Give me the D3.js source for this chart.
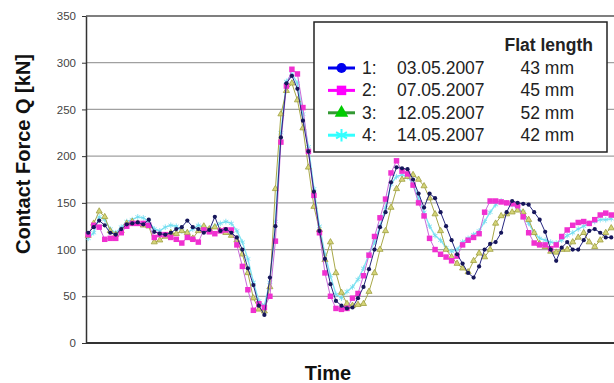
<!DOCTYPE html>
<html>
<head>
<meta charset="utf-8">
<script src="https://cdn.jsdelivr.net/npm/d3@7"></script>
<style>
  html, body { margin: 0; padding: 0; background: #fff; }
  svg { display: block; font-family: "Liberation Sans", Arial, sans-serif; }
</style>
</head>
<body>
<svg id="chart" width="614" height="383"></svg>
<script>
// ---- data (kN, one sample per time step) ----
const yTicks = [0, 50, 100, 150, 200, 250, 300, 350];

const force1 = [118,124,131,126,118,116,122,127,128,129,127,132,119,117,116,118,122,124,131,124,
  122,118,121,135,120,122,118,113,100,80,62,40,30,70,125,220,278,286,272,238,
  205,162,120,90,63,45,40,37,38,48,60,79,100,124,140,172,188,187,186,175,
  160,145,160,155,140,125,110,95,85,75,70,82,100,106,108,118,140,152,150,149,
  148,140,132,119,100,88,102,108,100,100,110,120,122,118,113,113];

const force2 = [116,126,124,111,112,112,118,125,128,128,128,126,113,116,116,113,111,107,113,111,
  108,121,119,117,120,121,121,105,82,57,35,42,38,50,109,215,275,293,288,252,
  205,158,118,75,50,37,36,37,48,53,72,94,114,134,154,182,195,184,181,169,
  150,136,112,100,95,92,88,93,105,110,113,117,140,152,152,151,150,149,147,135,
  118,107,105,105,101,105,114,121,126,129,130,128,132,137,139,137];

const force3 = [115,128,141,135,120,116,120,128,130,128,126,125,108,110,114,118,117,120,118,112,
  120,125,122,124,120,118,115,110,95,75,48,36,34,60,165,245,270,278,260,230,
  188,146,121,89,108,75,54,42,40,41,42,55,75,100,120,145,165,175,178,180,
  175,168,155,138,120,100,92,85,80,76,88,96,92,100,128,136,138,140,142,140,
  132,118,106,103,98,97,100,100,108,113,118,108,103,110,118,123];

const force4 = [112,118,135,132,122,118,124,130,132,135,134,130,122,120,124,126,125,120,118,122,
  126,124,122,125,128,130,128,120,108,90,65,45,40,65,130,225,280,288,278,245,
  210,165,125,95,72,52,48,55,60,68,80,95,108,125,145,170,178,180,178,170,
  155,140,125,115,110,102,98,100,108,112,116,120,130,140,148,152,150,148,145,140,
  128,118,112,110,108,107,110,115,118,122,125,128,130,132,132,133];

const seriesNo    = ["1:", "2:", "3:", "4:"];
const seriesDates = ["03.05.2007", "07.05.2007", "12.05.2007", "14.05.2007"];
const flatLengths = ["43 mm", "45 mm", "52 mm", "42 mm"];
const allSeries   = [force1, force2, force3, force4];

// ---- look ----
const starSym = d3.symbolAsterisk || d3.symbolX;
const looks = [
  { line: "#262680", mark: "#16165a", mstroke: "none", sym: d3.symbolCircle, size: 14,
    legLine: "#0000ee", legFill: "#0000ee", legStroke: "none", legSize: 80 },
  { line: "#c86ad8", mark: "#f030d0", mstroke: "none", sym: d3.symbolSquare, size: 30,
    legLine: "#ff00ff", legFill: "#ff00ff", legStroke: "none", legSize: 90 },
  { line: "#a8a848", mark: "#d4d478", mstroke: "#a0a040", sym: d3.symbolTriangle, size: 16,
    legLine: "#339933", legFill: "#00cc00", legStroke: "none", legSize: 80 },
  { line: "#80e4f2", mark: "none", mstroke: "#70dcef", sym: starSym, size: 22,
    legLine: "#33ffff", legFill: "none", legStroke: "#33ffff", legSize: 110 }
];

const svg = d3.select("#chart");
const m = { top: 16, right: 0, bottom: 40, left: 86 };
const W = 614, H = 383;

const x = d3.scaleLinear().domain([-0.4, 95.5]).range([m.left, W - m.right]);
const y = d3.scaleLinear().domain([0, 350]).range([H - m.bottom, m.top]);

// grid
svg.append("g")
  .selectAll("line")
  .data(yTicks.filter(d => d > 0 && d < 350))
  .enter().append("line")
  .attr("x1", m.left).attr("x2", W)
  .attr("y1", d => y(d)).attr("y2", d => y(d))
  .attr("stroke", "#a0a0a0").attr("stroke-width", 1.2);

// top frame
svg.append("line")
  .attr("x1", m.left).attr("x2", W)
  .attr("y1", y(350)).attr("y2", y(350))
  .attr("stroke", "#555").attr("stroke-width", 1.5);

// left axis
const yAxis = svg.append("g")
  .attr("transform", `translate(${m.left},0)`)
  .call(d3.axisLeft(y).tickValues(yTicks).tickSize(4).tickPadding(6).tickSizeOuter(0));
yAxis.select(".domain").attr("stroke", "#333").attr("stroke-width", 1.5);
yAxis.selectAll(".tick line").attr("stroke", "#333");
yAxis.selectAll("text")
  .style("font-size", "11.5px")
  .style("font-family", "'Liberation Sans', Arial, sans-serif")
  .attr("fill", "#444");

// bottom axis line
svg.append("line")
  .attr("x1", m.left).attr("x2", W)
  .attr("y1", y(0)).attr("y2", y(0))
  .attr("stroke", "#333").attr("stroke-width", 2);

// series (last series drawn first)
const line = d3.line().x((d, i) => x(i)).y(d => y(d));
const plot = svg.append("g");
[3, 2, 1, 0].forEach(k => {
  const vals = allSeries[k], lk = looks[k];
  plot.append("path")
    .attr("d", line(vals))
    .attr("fill", "none")
    .attr("stroke", lk.line)
    .attr("stroke-width", k === 3 ? 1.4 : 1);
  plot.append("g")
    .selectAll("path")
    .data(vals)
    .enter().append("path")
    .attr("transform", (d, i) => `translate(${x(i)},${y(d)})`)
    .attr("d", d3.symbol().type(lk.sym).size(lk.size))
    .attr("fill", lk.mark)
    .attr("stroke", lk.mstroke)
    .attr("stroke-width", 0.8);
});

// axis titles
svg.append("text")
  .attr("transform", "translate(30,154) rotate(-90)")
  .attr("text-anchor", "middle")
  .style("font", "bold 20px 'Liberation Sans', Arial, sans-serif")
  .attr("fill", "#111")
  .text("Contact Force Q [kN]");

svg.append("text")
  .attr("x", 328).attr("y", 380)
  .attr("text-anchor", "middle")
  .style("font", "bold 20px 'Liberation Sans', Arial, sans-serif")
  .attr("fill", "#111")
  .text("Time");

// legend
const leg = svg.append("g");
leg.append("rect")
  .attr("x", 314).attr("y", 22).attr("width", 293).attr("height", 130)
  .attr("fill", "#fff").attr("stroke", "#222").attr("stroke-width", 1.5);

leg.append("text")
  .attr("x", 593).attr("y", 51)
  .attr("text-anchor", "end")
  .style("font", "bold 17.5px 'Liberation Sans', Arial, sans-serif")
  .attr("fill", "#222")
  .text("Flat length");

seriesNo.forEach((s, i) => {
  const lk = looks[i];
  const row = leg.append("g").attr("transform", `translate(0,${74 + i * 22.4})`);
  row.append("line")
    .attr("x1", 328).attr("x2", 355).attr("y1", -6).attr("y2", -6)
    .attr("stroke", lk.legLine).attr("stroke-width", 3);
  row.append("path")
    .attr("transform", "translate(341.5,-6)")
    .attr("d", d3.symbol().type(lk.sym).size(lk.legSize))
    .attr("fill", lk.legFill)
    .attr("stroke", lk.legStroke)
    .attr("stroke-width", 2);
  const txt = (xx, t, anchor) => row.append("text")
    .attr("x", xx).attr("y", 0)
    .attr("text-anchor", anchor)
    .style("font", "17.5px 'Liberation Sans', Arial, sans-serif")
    .attr("fill", "#222")
    .text(t);
  txt(362, s, "start");
  txt(397, seriesDates[i], "start");
  txt(574, flatLengths[i], "end");
});
</script>
</body>
</html>
